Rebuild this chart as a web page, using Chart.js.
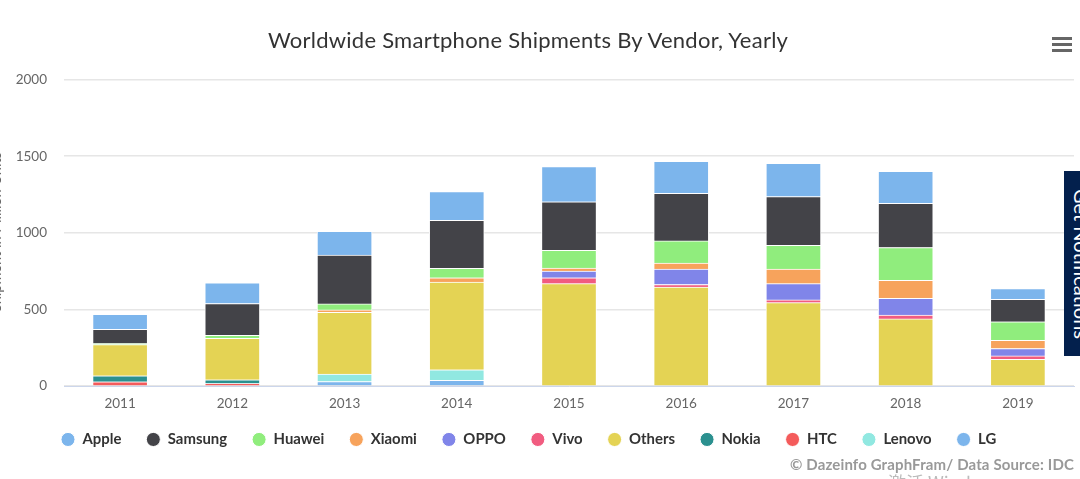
<!DOCTYPE html>
<html><head><meta charset="utf-8">
<script src="https://cdn.jsdelivr.net/npm/chart.js@4"></script>
<style>
html,body{margin:0;padding:0;background:#fff;overflow:hidden;width:1080px;height:479px}
#wrap{position:relative;width:1080px;height:479px;overflow:hidden;font-family:Lato,sans-serif}
canvas{position:absolute;left:0;top:0}
.t{position:absolute;white-space:nowrap}
#title{left:268px;width:520px;top:26px;text-align:center;font-size:22px;line-height:28px;color:#333;letter-spacing:.25px}
#ytitle{left:3px;top:232px;font-size:14.5px;line-height:14px;color:#666;transform-origin:0 0;transform:rotate(-90deg) translate(-50%,-100%);}
#credit{right:6px;top:455px;font-size:15px;line-height:18px;font-weight:700;color:#999;letter-spacing:.14px}
#wm{left:888px;top:472px;font-family:"Noto Sans CJK SC",sans-serif;font-size:18px;line-height:20px;color:#bbb}
#box{position:absolute;left:1064px;top:171px;width:16px;height:185px;background:#03204d;overflow:hidden}
#boxt{position:absolute;left:8px;top:18px;color:#fff;font-size:20px;line-height:20px;white-space:nowrap;transform-origin:0 0;transform:translate(20px,0) rotate(90deg)}
.bar{position:absolute;left:1052px;width:20px;height:3.4px;background:#666}
</style></head><body>
<div id="wrap">
<canvas id="c" width="1080" height="479"></canvas>
<div class="t" id="title">Worldwide Smartphone Shipments By Vendor, Yearly</div>
<div class="t" id="ytitle">Shipment in Million Units</div>
<div class="t" id="credit">© Dazeinfo GraphFram/ Data Source: IDC</div>
<div class="t" id="wm">激活 Windows</div>
<div id="box"><div id="boxt">Get Notifications</div></div>
<div class="bar" style="top:37px"></div><div class="bar" style="top:43px"></div><div class="bar" style="top:49px"></div>
</div>
<script>
const years = ['2011','2012','2013','2014','2015','2016','2017','2018','2019'];
const yTicks = [0,500,1000,1500,2000];
const apple   = [98,135,155,187,230,208,217,209,70];
const samsung = [92,208,318,314,317,311,317,288,147];
const huawei  = [7,20,39,61,115,145,156,214,120];
const xiaomi  = [0,0,15,28,19,39,95,118,54];
const oppo    = [0,0,0,0,44,100,106,108,48];
const vivo    = [0,0,0,0,39,17,18,26,23];
const others  = [204,270,404,573,668,646,544,438,174];
const nokia   = [39,24,0,0,0,0,0,0,0];
const htc     = [28,17,0,0,0,0,0,0,0];
const lenovo  = [0,0,48,69,0,0,0,0,0];
const lg      = [0,0,30,37,0,0,0,0,0];

const series = [
  ['Apple',apple,'#7cb5ec'],['Samsung',samsung,'#434348'],['Huawei',huawei,'#90ed7d'],
  ['Xiaomi',xiaomi,'#f7a35c'],['OPPO',oppo,'#8085e9'],['Vivo',vivo,'#f15c80'],
  ['Others',others,'#e4d354'],['Nokia',nokia,'#2b908f'],['HTC',htc,'#f45b5b'],
  ['Lenovo',lenovo,'#91e8e1'],['LG',lg,'#7cb5ec']
];
const datasets = series.slice().reverse().map(([label,data,color])=>({
  label,data,backgroundColor:color,borderColor:'#fff',borderWidth:1,barThickness:55,
  pointStyle:'circle'
}));

const legendShift = {id:'legendShift',afterLayout(chart){chart.legend.left=36;chart.legend.top=407;}};

new Chart(document.getElementById('c'),{
  type:'bar',
  data:{labels:years,datasets},
  plugins:[legendShift],
  options:{
    responsive:false,animation:false,devicePixelRatio:1,
    layout:{padding:{left:0,right:6,top:79.5,bottom:0}},
    plugins:{
      title:{display:false},tooltip:{enabled:false},
      legend:{display:true,position:'bottom',align:'start',reverse:true,
        labels:{usePointStyle:true,pointStyle:'circle',boxHeight:10,boxWidth:14,pointStyleWidth:14,padding:25,
          color:'#333',font:{family:'Lato',size:14.9,weight:'700'}}}
    },
    scales:{
      x:{stacked:true,
        afterFit(s){s.height=43;},
        grid:{display:false,drawTicks:false},
        border:{display:true,color:'#ccd6eb',width:1},
        ticks:{color:'#666',font:{family:'Lato',size:13.5},padding:9,maxRotation:0}},
      y:{stacked:true,min:0,max:2000,
        afterBuildTicks(s){s.ticks=yTicks.map(v=>({value:v}));},
        afterFit(s){s.width=64;},
        grid:{color:'#e6e6e6',lineWidth:1.5,drawTicks:false},
        border:{display:false},
        ticks:{color:'#666',font:{family:'Lato',size:13.5},padding:17,callback:v=>String(v)}}
    }
  }
});
</script>
</body></html>
